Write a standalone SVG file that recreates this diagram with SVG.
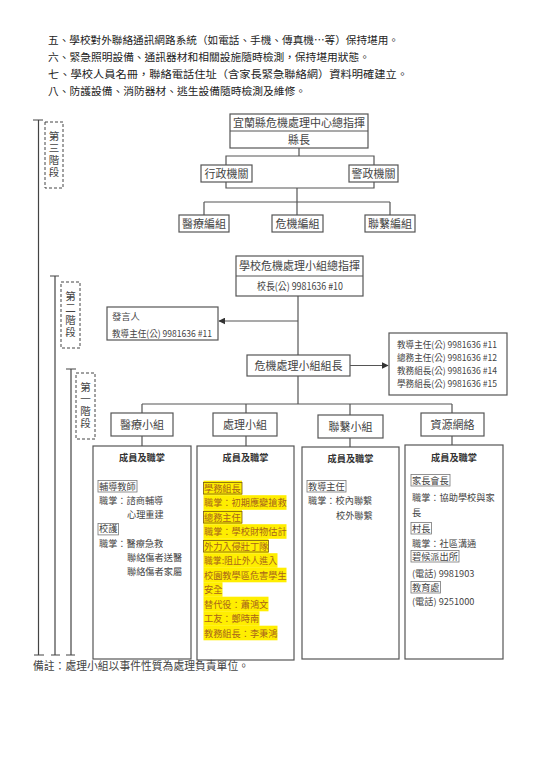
<svg xmlns="http://www.w3.org/2000/svg" width="543" height="768" viewBox="0 0 543 768">
<defs>
<style>
.t{font-family:"Noto Sans CJK TC","Noto Sans CJK SC",sans-serif;fill:#444}
.top{font-size:10.5px;fill:#222}
.bt{font-size:11px;text-anchor:middle}
.sm{font-size:9.2px}
.sm2{font-size:9.3px}
.sm3{font-size:9px}
.hd{font-size:9.2px;font-weight:bold;text-anchor:middle;fill:#333}
.box{fill:#fff;stroke:#555;stroke-width:1.2}
.ln{fill:none;stroke:#555;stroke-width:1.2}
.br{fill:none;stroke:#444;stroke-width:1.2}
.dash{fill:none;stroke:#444;stroke-width:1;stroke-dasharray:3 2}
.lab{fill:none;stroke:#777;stroke-width:0.8}
.labY{fill:none;stroke:#7a5a10;stroke-width:0.8}
.hl{fill:#ffee00}
.yt{fill:#a8641c}
.ph{font-size:10.5px;text-anchor:middle;writing-mode:vertical-rl;letter-spacing:1.5px}
</style>
<marker id="ah" viewBox="0 0 10 10" refX="9" refY="5" markerWidth="7" markerHeight="7" orient="auto" markerUnits="userSpaceOnUse">
<path d="M0,0 L10,5 L0,10 z" fill="#333"/>
</marker>
</defs>
<rect width="543" height="768" fill="#fff"/>

<g id="intro-text">
<text class="t top" x="48" y="44" textLength="351" lengthAdjust="spacingAndGlyphs">五、學校對外聯絡通訊網路系統（如電話、手機、傳真機…等）保持堪用。</text>
<text class="t top" x="48" y="61" textLength="322" lengthAdjust="spacingAndGlyphs">六、緊急照明設備、通訊器材和相關設施隨時檢測，保持堪用狀態。</text>
<text class="t top" x="48" y="78" textLength="360" lengthAdjust="spacingAndGlyphs">七、學校人員名冊，聯絡電話住址（含家長緊急聯絡網）資料明確建立。</text>
<text class="t top" x="48" y="95" textLength="258" lengthAdjust="spacingAndGlyphs">八、防護設備、消防器材、逃生設備隨時檢測及維修。</text>
</g>

<g id="phase-brackets">
<path class="br" d="M38.5,120 V655 M33,120 H43 M34,655 H44"/>
<path class="br" d="M55,276 V655 M50,276 H59 M51,655 H60"/>
<path class="br" d="M71,369 V655 M66,369 H76 M66,655 H75"/>
</g>
<g id="phase3">
<rect class="dash" x="45" y="122" width="18" height="66"/>
<text class="t ph" x="54" y="155">第三階段</text>
</g>
<g id="phase2">
<rect class="dash" x="61" y="282" width="19" height="66"/>
<text class="t ph" x="70.5" y="315">第二階段</text>
</g>
<g id="phase1">
<rect class="dash" x="76" y="373" width="19" height="66"/>
<text class="t ph" x="85.5" y="406">第一階段</text>
</g>

<g id="connectors">
<path class="ln" d="M299,148 V156 M226,156 H374 V188 H226 Z"/>
<path class="ln" d="M297,188 V215 M204,202 H390 M204,202 V215 M390,202 V215"/>
<path class="ln" d="M298,296 V355"/>
<path class="ln" d="M298,321 H219" marker-end="url(#ah)"/>
<path class="ln" d="M350,365.5 H388" marker-end="url(#ah)"/>
<path class="ln" d="M298,376 V404 M142,404 H452 M142,404 V413 M246,404 V413 M350,404 V415 M452,404 V413"/>
<path class="ln" d="M142,436 V446 M246,436 V446 M350,438 V447 M452,436 V445"/>
</g>

<g id="county-commander">
<rect class="box" x="230" y="114" width="138" height="34"/>
<path class="ln" d="M230,131 H368"/>
<text class="t bt" x="299" y="127">宜蘭縣危機處理中心總指揮</text>
<text class="t bt" x="299" y="144">縣長</text>
</g>
<g id="admin-agency">
<rect class="box" x="201" y="165" width="51" height="17"/>
<text class="t bt" x="226.5" y="177.5">行政機關</text>
</g>
<g id="police-agency">
<rect class="box" x="349" y="165" width="49" height="17"/>
<text class="t bt" x="373.5" y="177.5">警政機關</text>
</g>
<g id="medical-team">
<rect class="box" x="179" y="215" width="50" height="17"/>
<text class="t bt" x="204" y="227.5">醫療編組</text>
</g>
<g id="crisis-team">
<rect class="box" x="272" y="215" width="51" height="17"/>
<text class="t bt" x="297.5" y="227.5">危機編組</text>
</g>
<g id="contact-team">
<rect class="box" x="365" y="215" width="50" height="17"/>
<text class="t bt" x="390" y="227.5">聯繫編組</text>
</g>

<g id="school-commander">
<rect class="box" x="236" y="256" width="127" height="40"/>
<path class="ln" d="M236,276 H363"/>
<text class="t bt" x="299.5" y="270">學校危機處理小組總指揮</text>
<text class="t" x="257" y="290" font-size="10" textLength="86" lengthAdjust="spacingAndGlyphs">校長(公) 9981636 #10</text>
</g>
<g id="spokesperson">
<rect class="box" x="107" y="307" width="111" height="33"/>
<text class="t sm2" x="112" y="319.5">發言人</text>
<text class="t sm2" x="112" y="336.5" textLength="100" lengthAdjust="spacingAndGlyphs">教導主任(公) 9981636 #11</text>
</g>
<g id="team-leader">
<rect class="box" x="247" y="355" width="103" height="21"/>
<text class="t bt" x="298.5" y="370">危機處理小組組長</text>
</g>
<g id="leader-contacts">
<rect class="box" x="389" y="333" width="118" height="62"/>
<text class="t sm3" x="397" y="347.5" textLength="100" lengthAdjust="spacingAndGlyphs">教導主任(公) 9981636 #11</text>
<text class="t sm3" x="397" y="360.8" textLength="100" lengthAdjust="spacingAndGlyphs">總務主任(公) 9981636 #12</text>
<text class="t sm3" x="397" y="374.1" textLength="100" lengthAdjust="spacingAndGlyphs">教務組長(公) 9981636 #14</text>
<text class="t sm3" x="397" y="387.4" textLength="100" lengthAdjust="spacingAndGlyphs">學務組長(公) 9981636 #15</text>
</g>

<g id="medical-group">
<rect class="box" x="111" y="413" width="62" height="23"/>
<text class="t bt" x="142" y="428.5">醫療小組</text>
</g>
<g id="handling-group">
<rect class="box" x="213" y="413" width="64" height="23"/>
<text class="t bt" x="245" y="428.5">處理小組</text>
</g>
<g id="contact-group">
<rect class="box" x="318" y="415" width="65" height="23"/>
<text class="t bt" x="350.5" y="430.5">聯繫小組</text>
</g>
<g id="resource-network">
<rect class="box" x="421" y="413" width="63" height="23"/>
<text class="t bt" x="452.5" y="428.5">資源網絡</text>
</g>

<g id="medical-members">
<rect class="box" x="93" y="446" width="98" height="213"/>
<text class="t hd" x="142" y="461">成員及職掌</text>
<rect class="lab" x="98" y="480.5" width="39" height="11.5"/>
<text class="t sm" x="99" y="489.5">輔導教師</text>
<text class="t sm" x="99" y="503.8">職掌：諮商輔導</text>
<text class="t sm" x="127" y="518.1">心理重建</text>
<rect class="lab" x="98" y="523.4" width="20.5" height="11.5"/>
<text class="t sm" x="99" y="532.4">校護</text>
<text class="t sm" x="99" y="546.7">職掌：醫療急救</text>
<text class="t sm" x="127" y="561">聯絡傷者送醫</text>
<text class="t sm" x="127" y="575.3">聯絡傷者家屬</text>
</g>

<g id="handling-members">
<rect class="box" x="197" y="446" width="97" height="214"/>
<text class="t hd" x="245.5" y="461">成員及職掌</text>
<rect class="hl" x="203.5" y="480.7" width="38.5" height="14.6"/>
<rect class="hl" x="203.5" y="495.2" width="83" height="14.6"/>
<rect class="hl" x="203.5" y="509.7" width="38.5" height="14.6"/>
<rect class="hl" x="203.5" y="524.2" width="83" height="14.6"/>
<rect class="hl" x="203.5" y="538.7" width="65" height="14.6"/>
<rect class="hl" x="203.5" y="553.2" width="74" height="14.6"/>
<rect class="hl" x="203.5" y="567.7" width="83" height="14.6"/>
<rect class="hl" x="203.5" y="582.2" width="19" height="14.6"/>
<rect class="hl" x="203.5" y="596.7" width="65" height="14.6"/>
<rect class="hl" x="203.5" y="611.2" width="56" height="14.6"/>
<rect class="hl" x="203.5" y="625.7" width="74" height="14.6"/>
<rect class="labY" x="203.5" y="482.5" width="38.5" height="11.5"/>
<rect class="labY" x="203.5" y="511.5" width="38.5" height="11.5"/>
<rect class="labY" x="203.5" y="540.5" width="65" height="11.5"/>
<text class="t sm yt" x="204" y="491.5">學務組長</text>
<text class="t sm yt" x="204" y="506">職掌：初期應變搶救</text>
<text class="t sm yt" x="204" y="520.5">總務主任</text>
<text class="t sm yt" x="204" y="535">職掌：學校財物估計</text>
<text class="t sm yt" x="204" y="549.5">外力入侵壯丁隊</text>
<text class="t sm yt" x="204" y="564" textLength="73" lengthAdjust="spacingAndGlyphs">職掌:阻止外人進入</text>
<text class="t sm yt" x="204" y="578.5">校園教學區危害學生</text>
<text class="t sm yt" x="204" y="593">安全</text>
<text class="t sm yt" x="204" y="607.5">替代役：蕭鴻文</text>
<text class="t sm yt" x="204" y="622">工友：鄭時南</text>
<text class="t sm yt" x="204" y="636.5">教務組長：李秉鴻</text>
</g>

<g id="contact-members">
<rect class="box" x="302" y="447" width="97" height="212"/>
<text class="t hd" x="350.5" y="462">成員及職掌</text>
<rect class="lab" x="307" y="480.5" width="39" height="11.5"/>
<text class="t sm" x="308" y="489.5">教導主任</text>
<text class="t sm" x="308" y="503.5">職掌：校內聯繫</text>
<text class="t sm" x="336" y="518.5">校外聯繫</text>
</g>

<g id="resource-members">
<rect class="box" x="405" y="445" width="98" height="214"/>
<text class="t hd" x="454" y="461">成員及職掌</text>
<rect class="lab" x="411" y="474.5" width="39" height="11.5"/>
<text class="t sm" x="412" y="483.5">家長會長</text>
<text class="t sm" x="412" y="500.5">職掌：協助學校與家</text>
<text class="t sm" x="412" y="515.5">長</text>
<rect class="lab" x="411" y="522.5" width="20.5" height="11.5"/>
<text class="t sm" x="412" y="531.5">村長</text>
<text class="t sm" x="412" y="546.5">職掌：社區溝通</text>
<rect class="lab" x="411" y="550.5" width="48" height="11.5"/>
<text class="t sm" x="412" y="559.5">碧候派出所</text>
<text class="t sm" x="412" y="576.5">(電話) 9981903</text>
<rect class="lab" x="411" y="581.5" width="29.5" height="11.5"/>
<text class="t sm" x="412" y="590.5">教育處</text>
<text class="t sm" x="412" y="604.5">(電話) 9251000</text>
</g>

<g id="footnote">
<text class="t" x="33" y="670" font-size="11.2" fill="#333" textLength="216" lengthAdjust="spacingAndGlyphs">備註：處理小組以事件性質為處理負責單位。</text>
</g>
</svg>
